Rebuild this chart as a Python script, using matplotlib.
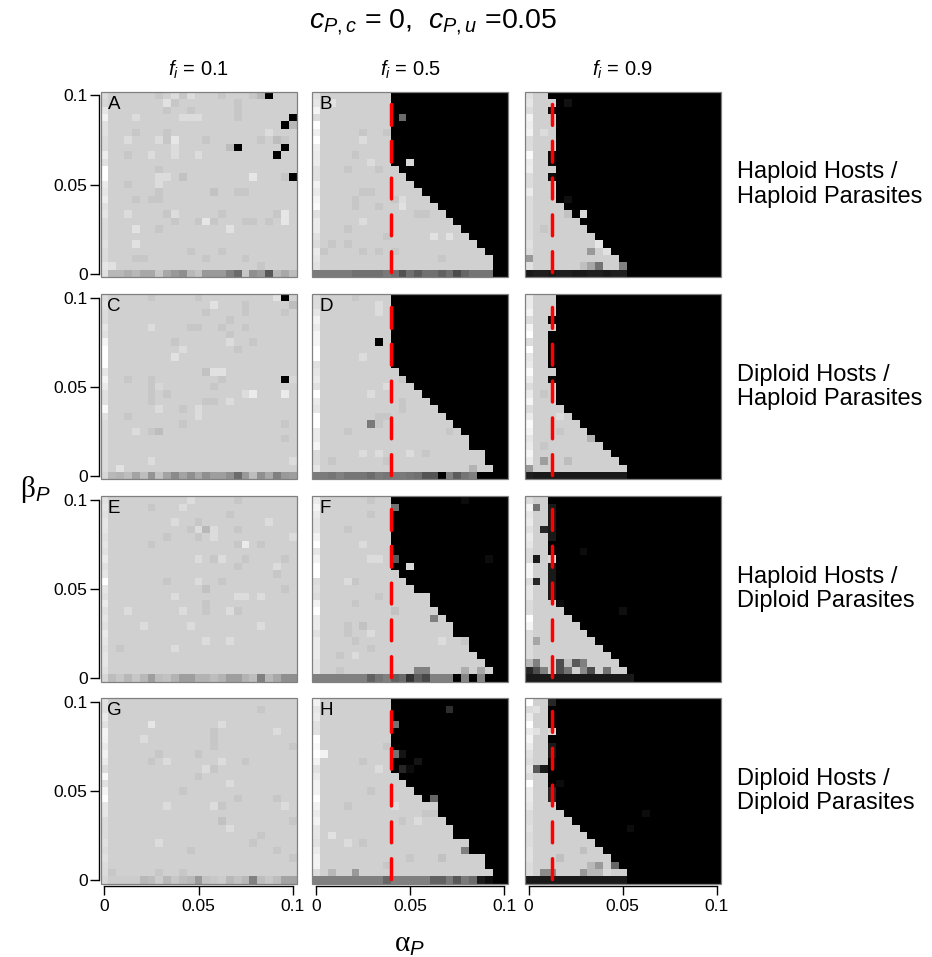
import numpy as np
import matplotlib
matplotlib.use('Agg')
import matplotlib.pyplot as plt
from matplotlib.patches import Rectangle

plt.rcParams['font.family'] = ['Liberation Sans', 'DejaVu Sans']
plt.rcParams['mathtext.fontset'] = 'custom'
plt.rcParams['mathtext.rm'] = 'Liberation Sans'
plt.rcParams['mathtext.it'] = 'Liberation Sans:italic'
plt.rcParams['mathtext.sf'] = 'Liberation Serif'

# grid of parameter values (25 x 25), rows listed from beta=0.1 (top) down to beta=0
alpha_vals = np.linspace(0, 0.1, 25)
beta_vals = np.linspace(0, 0.1, 25)
BASE = 0.816

col_titles = [r'$f_i$ = 0.1', r'$f_i$ = 0.5', r'$f_i$ = 0.9']
row_names = ['Haploid Hosts /\nHaploid Parasites', 'Diploid Hosts /\nHaploid Parasites',
             'Haploid Hosts /\nDiploid Parasites', 'Diploid Hosts /\nDiploid Parasites']
letters = [['A', 'B', ''], ['C', 'D', ''], ['E', 'F', ''], ['G', 'H', '']]
threshold = [None, 0.04, 0.0125]   # red dashed line per column
tick_vals = [0, 0.05, 0.1]
tick_labels = ['0', '0.05', '0.1']

# ---- row 1 ----
A_first = [0.86, 0.84, 0.9, 0.95, 0.88, 0.88, 0.86, 0.86, 0.93, 0.88, 1.0, 1.0, 0.92, 0.9, 0.93, 0.88,
           0.9, 0.86, 0.86, 0.86, 0.88, 0.86, 0.86, 0.9]
A_bottom = [0.88, 0.72, 0.72, 0.68, 0.72, 0.66, 0.66, 0.78, 0.66, 0.6, 0.56, 0.72, 0.76, 0.6, 0.6, 0.6,
            0.5, 0.42, 0.78, 0.56, 0.6, 0.34, 0.72, 0.66, 0.74]
A_light = [25] * 25
A_spots = [(0, 21, 0), (3, 24, 0), (4, 23, 0), (7, 17, 0), (7, 23, 0), (8, 22, 0), (11, 24, 0),
           (0, 20, 0.72), (4, 24, 0.72), (6, 22, 0.74), (7, 16, 0.74), (6, 23, 0.78),
           (0, 7, 0.78), (0, 9, 0.86), (0, 10, 0.78), (0, 11, 0.86), (0, 15, 0.78), (0, 19, 0.78),
           (1, 8, 0.88), (1, 9, 0.78), (1, 17, 0.78), (2, 8, 0.78), (2, 11, 0.78), (2, 17, 0.78),
           (3, 4, 0.86), (3, 10, 0.86), (3, 11, 0.86), (3, 12, 0.86), (3, 17, 0.78),
           (5, 4, 0.78), (5, 8, 0.78), (5, 21, 0.86), (6, 3, 0.86), (6, 7, 0.86), (6, 8, 0.78),
           (6, 9, 0.9), (6, 13, 0.78), (6, 20, 0.78), (7, 9, 0.86), (8, 3, 0.78), (8, 6, 0.86),
           (8, 9, 0.86), (8, 12, 0.86), (10, 7, 0.78), (11, 7, 0.86), (11, 8, 0.86), (11, 10, 0.76),
           (11, 19, 0.9), (11, 23, 0.78), (12, 3, 0.78), (12, 7, 0.86), (13, 7, 0.78), (13, 14, 0.76),
           (13, 17, 0.78), (13, 18, 0.78), (14, 4, 0.78), (14, 6, 0.78), (14, 7, 0.78),
           (16, 3, 0.86), (16, 8, 0.78), (16, 9, 0.86), (16, 15, 0.78), (16, 22, 0.78), (16, 23, 0.9),
           (17, 9, 0.78), (17, 12, 0.78), (17, 13, 0.9), (17, 14, 0.78), (17, 18, 0.78), (17, 19, 0.78),
           (17, 21, 0.78), (17, 23, 0.9), (18, 4, 0.88), (18, 7, 0.78), (18, 16, 0.88), (20, 4, 0.88),
           (21, 11, 0.78), (21, 15, 0.78), (22, 4, 0.78), (22, 5, 0.78), (22, 13, 0.78), (22, 18, 0.78),
           (23, 1, 0.88), (23, 20, 0.78)]

B_first = [0.88, 0.9, 0.96, 0.86, 1.0, 0.94, 1.0, 0.93, 0.92, 0.92, 0.88, 0.88, 0.95, 0.92, 0.96, 0.98,
           0.88, 0.92, 0.92, 0.88, 0.86, 0.92, 0.9, 0.88]
B_bottom = [0.48, 0.48, 0.48, 0.48, 0.48, 0.44, 0.44, 0.44, 0.44, 0.48, 0.44, 0.32, 0.44, 0.36, 0.44,
            0.44, 0.38, 0.44, 0.3, 0.4, 0.46, 0.46, 0.46, 0, 0]
B_light = [10] * 10 + [11, 12, 13, 14, 15, 16, 17, 18, 19, 20, 21, 22, 23, 23, 23]
B_spots = [(3, 11, 0.42), (9, 12, 0.85), (1, 2, 0.88), (5, 6, 0.78), (6, 6, 0.86), (5, 9, 0.78),
           (8, 5, 0.78), (9, 7, 0.86), (10, 4, 0.78), (10, 8, 0.78), (13, 6, 0.78), (13, 7, 0.78),
           (14, 5, 0.78), (14, 10, 0.78), (14, 11, 0.86), (15, 5, 0.78), (15, 8, 0.78), (15, 11, 0.88),
           (16, 13, 0.78), (16, 14, 0.78), (17, 6, 0.86), (18, 4, 0.78), (19, 9, 0.78), (19, 15, 0.88),
           (19, 17, 0.88), (20, 2, 0.78), (20, 4, 0.78), (21, 1, 0.78), (21, 6, 0.78), (21, 8, 0.78),
           (21, 10, 0.78), (22, 16, 0.78)]

R1C3_first = [0.88, 0.9, 0.86, 0.95, 0.93, 0.95, 0.86, 0.86, 0.98, 0.92, 0.93, 0.86, 0.86, 0.92, 0.86,
              0.86, 0.86, 0.86, 0.86, 0.86, 0.88, 0.86, 0.6, 0.88]
R1C3_bottom = [0.1, 0.12, 0.12, 0.1, 0.12, 0.12, 0.1, 0.1, 0.12, 0.12, 0.1, 0.12, 0.12] + [0] * 12
R1C3_light = [3] * 14 + [4, 5, 6, 7, 8, 9, 10, 11, 12, 13, 13]
R1C3_spots = [(1, 3, 0.82), (3, 3, 0.82), (4, 3, 0.82), (5, 3, 0.82), (6, 3, 0.82), (7, 3, 0.82),
              (10, 3, 0.82), (12, 3, 0.82), (13, 3, 0.82), (2, 3, 0.05), (8, 3, 0.04), (9, 3, 0.05),
              (11, 3, 0.05), (1, 5, 0.07), (14, 5, 0.06), (16, 7, 0.85), (5, 2, 0.86), (18, 2, 0.78),
              (16, 5, 0.76), (20, 9, 0.9), (21, 8, 0.6), (21, 10, 0.88), (23, 7, 0.75), (23, 8, 0.65),
              (23, 9, 0.45), (23, 12, 0.5)]

# ---- row 2 ----
C_first = [0.86, 0.88, 0.86, 0.86, 0.9, 0.88, 0.96, 1.0, 1.0, 1.0, 0.9, 0.96, 0.92, 0.88, 0.88, 0.98,
           0.88, 0.86, 0.86, 0.86, 0.86, 0.86, 0.86, 0.86]
C_bottom = [0.84, 0.72, 0.7, 0.74, 0.64, 0.74, 0.58, 0.76, 0.64, 0.54, 0.64, 0.56, 0.66, 0.56, 0.62,
            0.62, 0.56, 0.42, 0.6, 0.74, 0.56, 0.66, 0.5, 0.6, 0.62]
C_light = [25] * 25
C_spots = [(0, 23, 0), (11, 23, 0), (0, 22, 0.88), (1, 24, 0.74), (0, 6, 0.78), (0, 12, 0.78),
           (1, 14, 0.88), (1, 18, 0.78), (2, 13, 0.78), (2, 18, 0.78), (2, 23, 0.78), (3, 16, 0.78),
           (4, 6, 0.86), (4, 11, 0.78), (4, 12, 0.78), (4, 15, 0.78), (4, 18, 0.78), (5, 16, 0.78),
           (6, 9, 0.78), (6, 16, 0.86), (6, 19, 0.78), (7, 10, 0.86), (7, 17, 0.78), (8, 9, 0.88),
           (10, 13, 0.76), (10, 14, 0.88), (10, 15, 0.88), (11, 3, 0.78), (11, 6, 0.78), (11, 15, 0.78),
           (11, 24, 0.84), (12, 6, 0.78), (12, 7, 0.84), (12, 14, 0.78), (13, 6, 0.78), (13, 8, 0.78),
           (13, 18, 0.86), (13, 19, 0.92), (13, 23, 0.92), (14, 6, 0.78), (14, 13, 0.78), (14, 14, 0.78),
           (14, 16, 0.86), (15, 7, 0.86), (15, 10, 0.78), (15, 12, 0.86), (16, 3, 0.78), (16, 12, 0.86),
           (17, 10, 0.78), (17, 23, 0.78), (18, 4, 0.86), (18, 6, 0.78), (18, 7, 0.74), (19, 23, 0.78),
           (22, 6, 0.86), (23, 2, 0.88), (22, 24, 0.86)]

D_first = [0.86, 0.86, 0.9, 0.95, 0.92, 0.96, 0.96, 1.0, 1.0, 0.88, 0.9, 0.92, 0.88, 1.0, 0.92, 0.9,
           1.0, 1.0, 0.92, 0.92, 0.96, 0.86, 0.86, 0.9]
D_bottom = [0.48, 0.48, 0.46, 0.5, 0.46, 0.46, 0.46, 0.42, 0.48, 0.46, 0.48, 0.48, 0.46, 0.44, 0.33,
            0.33, 0.0, 0.5, 0.36, 0.46, 0.5, 0, 0, 0, 0]
D_light = [10] * 10 + [11, 12, 13, 14, 15, 16, 17, 18, 19, 20, 20, 22, 22, 23, 21]
D_spots = [(6, 8, 0.0), (17, 7, 0.48), (0, 5, 0.78), (1, 8, 0.86), (2, 8, 0.86), (8, 6, 0.86),
           (11, 11, 0.78), (12, 9, 0.86), (13, 7, 0.86), (14, 11, 0.78), (15, 11, 0.78), (16, 8, 0.78),
           (16, 9, 0.78), (17, 8, 0.78), (18, 4, 0.78), (18, 17, 0.78), (21, 6, 0.86), (21, 8, 0.86),
           (21, 12, 0.86), (21, 14, 0.78), (22, 2, 0.78), (22, 9, 0.78), (23, 20, 0.7)]

R2C3_first = [0.92, 0.92, 0.95, 0.86, 0.96, 1.0, 0.86, 1.0, 0.9, 0.92, 0.98, 0.92, 0.86, 0.92, 0.96,
              0.86, 0.92, 0.98, 0.95, 0.9, 0.92, 0.96, 0.92, 0.6]
R2C3_bottom = [0.12] + [0.1] * 12 + [0] * 12
R2C3_light = [4] * 15 + [5, 6, 7, 8, 9, 10, 11, 12, 13, 13]
R2C3_spots = [(3, 3, 0.02), (5, 3, 0), (6, 3, 0), (7, 3, 0), (8, 3, 0), (9, 3, 0), (11, 3, 0.03),
              (13, 2, 0.78), (16, 4, 0.86), (18, 4, 0.78), (19, 8, 0.7), (20, 2, 0.78), (22, 2, 0.62),
              (22, 5, 0.74)]

# ---- row 3 ----
E_first = [0.88, 0.9, 0.88, 0.9, 0.9, 0.88, 0.9, 0.88, 0.92, 0.88, 0.9, 1.0, 0.9, 0.88, 0.92, 0.88,
           0.9, 0.88, 0.92, 0.9, 0.88, 0.9, 0.9, 0.88]
E_bottom = [0.84, 0.74, 0.78, 0.72, 0.78, 0.72, 0.62, 0.74, 0.76, 0.7, 0.62, 0.62, 0.7, 0.7, 0.74,
            0.7, 0.62, 0.62, 0.7, 0.74, 0.5, 0.72, 0.66, 0.56, 0.56]
E_light = [25] * 25
E_spots = [(0, 11, 0.86), (0, 17, 0.78), (1, 6, 0.78), (1, 10, 0.86), (2, 16, 0.78), (3, 9, 0.86),
           (3, 12, 0.78), (3, 21, 0.86), (4, 11, 0.78), (4, 12, 0.86), (4, 13, 0.72), (4, 14, 0.86),
           (4, 17, 0.78), (5, 8, 0.78), (5, 12, 0.78), (5, 14, 0.86), (5, 24, 0.86), (6, 6, 0.78),
           (6, 17, 0.78), (6, 18, 0.92), (6, 20, 0.78), (8, 12, 0.86), (8, 14, 0.78), (8, 15, 0.86),
           (8, 18, 0.78), (8, 23, 0.78), (9, 17, 0.78), (9, 22, 0.86), (10, 22, 0.78), (11, 8, 0.78),
           (11, 12, 0.86), (11, 15, 0.78), (12, 13, 0.76), (12, 23, 0.78), (13, 9, 0.86), (13, 17, 0.86),
           (13, 18, 0.86), (13, 20, 0.86), (14, 13, 0.78), (15, 3, 0.86), (15, 10, 0.86), (15, 13, 0.78),
           (15, 16, 0.86), (15, 17, 0.78), (17, 5, 0.86), (17, 11, 0.86), (17, 20, 0.86), (19, 13, 0.86),
           (19, 16, 0.86), (20, 2, 0.78), (20, 9, 0.86)]

F_first = [0.92, 0.96, 0.92, 0.9, 0.9, 0.95, 1.0, 0.9, 0.95, 1.0, 1.0, 0.86, 0.88, 0.86, 0.95, 1.0,
           0.92, 0.92, 0.88, 0.92, 0.92, 0.92, 0.9, 0.9]
F_bottom = [0.5, 0.5, 0.5, 0.5, 0.5, 0.5, 0.5, 0.38, 0.46, 0.5, 0.38, 0.42, 0.2, 0.36, 0.28, 0.5, 0.5,
            0.5, 0.0, 0.52, 0.0, 0.52, 0.0, 0, 0]
F_light = [10] * 10 + [11, 12, 13, 15, 15, 16, 17, 18, 18, 20, 20, 21, 22, 23, 22]
F_spots = [(1, 10, 0.45), (8, 10, 0.35), (9, 12, 0.85), (0, 19, 0.05), (8, 22, 0.05), (16, 15, 0.5),
           (0, 7, 0.78), (2, 7, 0.78), (4, 4, 0.78), (6, 6, 0.86), (8, 7, 0.86), (8, 8, 0.86),
           (11, 4, 0.86), (11, 5, 0.78), (13, 8, 0.78), (14, 5, 0.78), (15, 10, 0.76), (17, 4, 0.78),
           (17, 6, 0.76), (18, 4, 0.78), (18, 7, 0.86), (19, 5, 0.78), (19, 16, 0.86), (19, 19, 0.78),
           (20, 7, 0.78), (21, 3, 0.78), (21, 5, 0.86), (23, 13, 0.5), (23, 14, 0.5), (23, 19, 0.68),
           (23, 21, 0.66), (23, 3, 0.78)]

R3C3_first = [0.86, 0.95, 0.9, 0.92, 0.88, 0.92, 0.9, 0.86, 0.86, 0.96, 0.96, 0.86, 0.9, 0.9, 0.86,
              0.86, 1.0, 0.96, 0.86, 0.86, 0.86, 0.86, 0.72, 0.15]
R3C3_bottom = [0.1] * 14 + [0] * 11
R3C3_light = [3] * 14 + [4, 5, 6, 7, 8, 9, 10, 11, 12, 13, 14]
R3C3_spots = [(1, 3, 0.1), (2, 3, 0.1), (3, 3, 0.1), (4, 3, 0.1), (5, 3, 0.1), (9, 3, 0.1),
              (10, 3, 0.1), (11, 3, 0.1), (12, 3, 0.1), (13, 3, 0.1), (8, 3, 0.85), (1, 1, 0.45),
              (4, 2, 0.15), (8, 1, 0.1), (11, 1, 0.15), (7, 7, 0.05), (15, 12, 0.06), (14, 4, 0.05),
              (19, 1, 0.65), (22, 1, 0.5), (22, 4, 0.3), (22, 5, 0.75), (22, 6, 0.35), (22, 7, 0.5),
              (23, 1, 0.3), (23, 2, 0.5), (23, 4, 0.3), (23, 5, 0.45), (23, 7, 0.55), (23, 8, 0.3),
              (23, 10, 0.45)]

# ---- row 4 ----
G_first = [0.88, 0.88, 0.92, 0.88, 0.96, 0.95, 0.92, 0.95, 0.92, 0.86, 0.98, 0.88, 0.96, 1.0, 0.9,
           0.9, 0.86, 0.86, 0.86, 0.88, 0.86, 0.88, 0.86, 0.86]
G_bottom = [0.84, 0.8, 0.8, 0.8, 0.8, 0.72, 0.74, 0.8, 0.72, 0.78, 0.74, 0.72, 0.6, 0.76, 0.78, 0.8,
            0.72, 0.76, 0.72, 0.5, 0.74, 0.78, 0.74, 0.64, 0.64]
G_light = [25] * 25
G_spots = [(1, 20, 0.78), (3, 15, 0.86), (3, 6, 0.9), (4, 14, 0.78), (4, 22, 0.86), (5, 5, 0.86),
           (5, 14, 0.78), (6, 14, 0.78), (6, 24, 0.78), (7, 7, 0.78), (7, 12, 0.78), (8, 6, 0.78),
           (8, 8, 0.86), (8, 15, 0.86), (8, 18, 0.78), (9, 13, 0.86), (9, 14, 0.78), (10, 12, 0.78),
           (11, 16, 0.86), (12, 10, 0.78), (13, 17, 0.78), (13, 22, 0.78), (14, 8, 0.86), (14, 14, 0.86),
           (14, 15, 0.78), (14, 23, 0.86), (16, 15, 0.76), (16, 24, 0.78), (17, 16, 0.86), (18, 20, 0.78),
           (19, 7, 0.86), (19, 19, 0.78), (20, 11, 0.78), (20, 22, 0.78), (21, 24, 0.78),
           (23, 1, 0.78), (23, 7, 0.78), (23, 10, 0.78)]

H_first = [0.95, 0.9, 0.92, 0.88, 0.88, 1.0, 0.98, 1.0, 0.95, 0.88, 0.92, 0.95, 0.95, 1.0, 0.95, 0.92,
           0.95, 0.9, 0.9, 0.88, 0.92, 0.95, 0.95, 0.86]
H_bottom = [0.5] * 9 + [0.4, 0.5, 0.5, 0.5, 0.5, 0.5, 0.38, 0.38, 0.48, 0.34, 0.48, 0.42, 0.1, 0.05, 0, 0]
H_light = [10] * 10 + [11, 12, 13, 14, 16, 16, 17, 18, 18, 20, 20, 22, 22, 23, 21]
H_spots = [(1, 17, 0.18), (3, 10, 0.45), (7, 10, 0.45), (7, 11, 0.08), (8, 13, 0.08), (9, 11, 0.15),
           (9, 12, 0.05), (13, 15, 0.4), (7, 1, 0.95), (6, 9, 0.78), (8, 6, 0.78), (9, 8, 0.86),
           (12, 7, 0.78), (14, 4, 0.78), (14, 10, 0.86), (16, 11, 0.78), (16, 13, 0.86), (15, 14, 0.78),
           (15, 15, 0.78), (18, 2, 0.88), (19, 4, 0.86), (19, 6, 0.78), (20, 19, 0.5), (21, 12, 0.78),
           (21, 16, 0.76), (22, 9, 0.78), (23, 2, 0.72), (23, 5, 0.6)]

R4C3_first = [1.0, 0.86, 0.92, 1.0, 0.92, 0.96, 0.92, 0.88, 0.86, 0.9, 0.86, 1.0, 0.92, 0.92, 0.9,
              0.86, 0.86, 0.88, 0.86, 0.86, 0.88, 0.88, 0.86, 0.86]
R4C3_bottom = [0.1] * 13 + [0] * 12
R4C3_light = [3] * 14 + [4, 5, 6, 7, 8, 9, 10, 11, 12, 13, 13]
R4C3_spots = [(0, 3, 0.15), (1, 1, 0.88), (4, 1, 0.88), (4, 3, 0.85), (6, 3, 0.1), (7, 3, 0.1),
              (12, 3, 0.15), (13, 3, 0.15), (9, 1, 0.35), (9, 2, 0.1), (11, 4, 0.05), (15, 15, 0.05),
              (17, 13, 0.05), (21, 4, 0.75), (20, 7, 0.75), (22, 8, 0.72), (22, 9, 0.6), (22, 11, 0.4),
              (23, 2, 0.55), (23, 3, 0.55), (23, 7, 0.6), (23, 8, 0.72), (23, 9, 0.72), (23, 10, 0.85)]

panels = [[(A_first, A_bottom, A_light, A_spots), (B_first, B_bottom, B_light, B_spots),
           (R1C3_first, R1C3_bottom, R1C3_light, R1C3_spots)],
          [(C_first, C_bottom, C_light, C_spots), (D_first, D_bottom, D_light, D_spots),
           (R2C3_first, R2C3_bottom, R2C3_light, R2C3_spots)],
          [(E_first, E_bottom, E_light, E_spots), (F_first, F_bottom, F_light, F_spots),
           (R3C3_first, R3C3_bottom, R3C3_light, R3C3_spots)],
          [(G_first, G_bottom, G_light, G_spots), (H_first, H_bottom, H_light, H_spots),
           (R4C3_first, R4C3_bottom, R4C3_light, R4C3_spots)]]


def build(first, bottom, light, spots):
    Z = np.full((25, 25), BASE)
    for r in range(25):
        Z[r, light[r]:] = 0.0
    Z[:24, 0] = first
    Z[24, :] = bottom
    for r, c, v in spots:
        Z[r, c] = v
    return Z[::-1]   # bottom row first for pcolormesh


W, H = 932, 957
fig = plt.figure(figsize=(W / 100, H / 100), dpi=100)

col_left = [100.5, 312.3, 524.7]
row_top = [91.7, 293.9, 496.1, 698.3]
pw, ph = 196, 185.6
half = 0.1 / 24 / 2

for i in range(4):
    for j in range(3):
        ax = fig.add_axes([col_left[j] / W, 1 - (row_top[i] + ph) / H, pw / W, ph / H])
        Z = build(*panels[i][j])
        ax.pcolormesh(alpha_vals, beta_vals, Z, cmap='gray', vmin=0, vmax=1, shading='nearest')
        ax.set_xlim(-half, 0.1 + half)
        ax.set_ylim(-half, 0.1 + half)
        if threshold[j] is not None:
            ax.plot([threshold[j], threshold[j]], [0.095, 0.0], color='red', lw=2.5,
                    dashes=(6, 4.6), dash_capstyle='round', solid_capstyle='round')
        for s in ['top', 'right']:
            ax.spines[s].set_visible(False)
        ax.add_patch(Rectangle((0, 0), 1, 1, transform=ax.transAxes, fill=False,
                               edgecolor='#808080', lw=0.9, zorder=5, clip_on=False))
        if j == 0:
            ax.spines['left'].set_bounds(0, 0.1)
            ax.spines['left'].set_position(('outward', 1.2))
            ax.spines['left'].set_linewidth(1.0)
            ax.set_yticks(tick_vals)
            ax.set_yticklabels(tick_labels)
            ax.tick_params(axis='y', length=6.5, width=1.0, pad=1.5, labelsize=12.5)
        else:
            ax.spines['left'].set_visible(False)
            ax.set_yticks([])
        if i == 3:
            ax.spines['bottom'].set_bounds(0, 0.1)
            ax.spines['bottom'].set_position(('outward', 1.2))
            ax.spines['bottom'].set_linewidth(1.0)
            ax.set_xticks(tick_vals)
            ax.set_xticklabels(tick_labels)
            ax.tick_params(axis='x', length=6.5, width=1.0, pad=3, labelsize=12.5)
        else:
            ax.spines['bottom'].set_visible(False)
            ax.set_xticks([])
        if letters[i][j]:
            ax.text(7 / pw, 1 - 4 / ph, letters[i][j], transform=ax.transAxes,
                    ha='left', va='top', fontsize=13.5, zorder=6)

fig.text(433 / W, 1 - 22 / H, r'$c_{P,c}$ = 0,  $c_{P,u}$ =0.05', ha='center', va='center', fontsize=20.5)
for j in range(3):
    fig.text((col_left[j] + pw / 2) / W, 1 - 70 / H, col_titles[j], ha='center', va='center', fontsize=14.5)
for i in range(4):
    fig.text(737 / W, 1 - (row_top[i] + ph / 2) / H, row_names[i], ha='left', va='center',
             fontsize=17, linespacing=1.12)
fig.text(35 / W, 1 - 490 / H, r'$\mathsf{\beta}_P$', ha='center', va='center', fontsize=21)
fig.text(410 / W, 1 - 944 / H, r'$\mathsf{\alpha}_P$', ha='center', va='center', fontsize=21)

fig.savefig('out.png', dpi=100)
